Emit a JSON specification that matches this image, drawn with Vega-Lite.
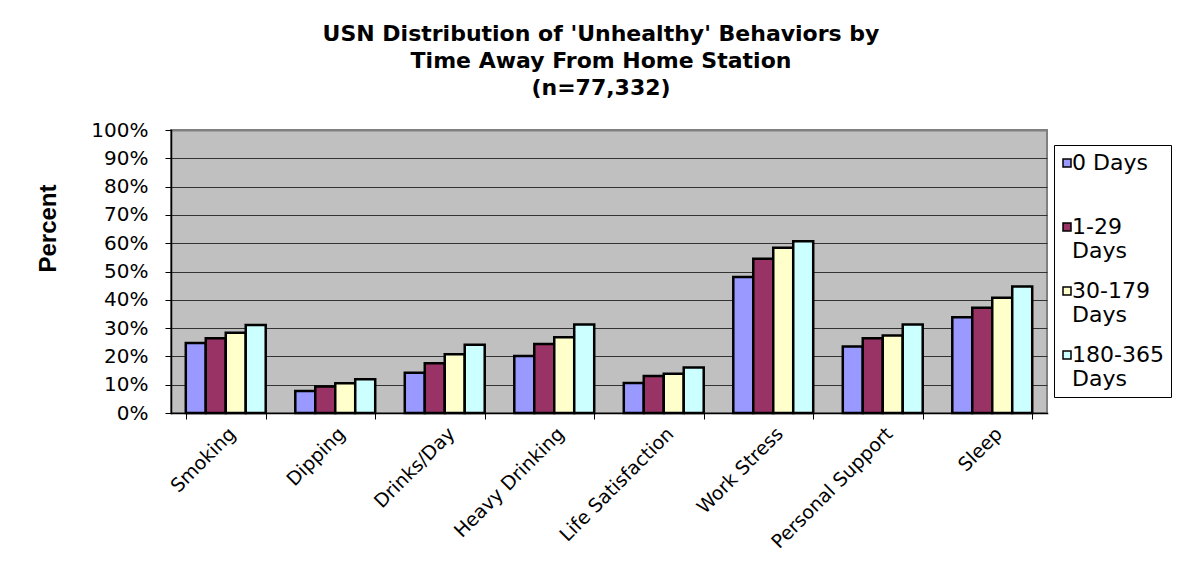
{
  "$schema": "https://vega.github.io/schema/vega-lite/v6.json",
  "width": 876,
  "height": 283,
  "autosize": {"type": "none"},
  "padding": {"left": 171, "top": 130, "right": 132, "bottom": 174},
  "background": "white",
  "title": {
    "text": ["USN Distribution of 'Unhealthy' Behaviors by", "Time Away From Home Station", "(n=77,332)"],
    "font": "DejaVu Sans",
    "fontSize": 22,
    "fontWeight": "bold",
    "color": "black",
    "anchor": "middle",
    "lineHeight": 27,
    "offset": 20,
    "dx": -8
  },
  "data": {
    "values": [
      {"behavior": "Smoking", "group": "0 Days", "value": 24.7},
      {"behavior": "Smoking", "group": "1-29 Days", "value": 26.4},
      {"behavior": "Smoking", "group": "30-179 Days", "value": 28.4},
      {"behavior": "Smoking", "group": "180-365 Days", "value": 31.1},
      {"behavior": "Dipping", "group": "0 Days", "value": 7.8},
      {"behavior": "Dipping", "group": "1-29 Days", "value": 9.4},
      {"behavior": "Dipping", "group": "30-179 Days", "value": 10.5},
      {"behavior": "Dipping", "group": "180-365 Days", "value": 11.9},
      {"behavior": "Drinks/Day", "group": "0 Days", "value": 14.2},
      {"behavior": "Drinks/Day", "group": "1-29 Days", "value": 17.6},
      {"behavior": "Drinks/Day", "group": "30-179 Days", "value": 20.8},
      {"behavior": "Drinks/Day", "group": "180-365 Days", "value": 24.1},
      {"behavior": "Heavy Drinking", "group": "0 Days", "value": 20.1},
      {"behavior": "Heavy Drinking", "group": "1-29 Days", "value": 24.4},
      {"behavior": "Heavy Drinking", "group": "30-179 Days", "value": 26.8},
      {"behavior": "Heavy Drinking", "group": "180-365 Days", "value": 31.3},
      {"behavior": "Life Satisfaction", "group": "0 Days", "value": 10.6},
      {"behavior": "Life Satisfaction", "group": "1-29 Days", "value": 13.1},
      {"behavior": "Life Satisfaction", "group": "30-179 Days", "value": 13.9},
      {"behavior": "Life Satisfaction", "group": "180-365 Days", "value": 16.1},
      {"behavior": "Work Stress", "group": "0 Days", "value": 48.1},
      {"behavior": "Work Stress", "group": "1-29 Days", "value": 54.5},
      {"behavior": "Work Stress", "group": "30-179 Days", "value": 58.4},
      {"behavior": "Work Stress", "group": "180-365 Days", "value": 60.7},
      {"behavior": "Personal Support", "group": "0 Days", "value": 23.5},
      {"behavior": "Personal Support", "group": "1-29 Days", "value": 26.4},
      {"behavior": "Personal Support", "group": "30-179 Days", "value": 27.4},
      {"behavior": "Personal Support", "group": "180-365 Days", "value": 31.3},
      {"behavior": "Sleep", "group": "0 Days", "value": 33.8},
      {"behavior": "Sleep", "group": "1-29 Days", "value": 37.2},
      {"behavior": "Sleep", "group": "30-179 Days", "value": 40.7},
      {"behavior": "Sleep", "group": "180-365 Days", "value": 44.7}
    ]
  },
  "mark": {"type": "bar", "stroke": "black", "strokeWidth": 2.5, "strokeJoin": "miter"},
  "encoding": {
    "x": {
      "field": "behavior",
      "type": "nominal",
      "sort": ["Smoking", "Dipping", "Drinks/Day", "Heavy Drinking", "Life Satisfaction", "Work Stress", "Personal Support", "Sleep"],
      "scale": {"paddingInner": 0.27, "paddingOuter": 0.135},
      "axis": {
        "title": null,
        "labelAngle": -45,
        "labelAlign": "right",
        "labelBaseline": "top",
        "labelFont": "DejaVu Sans",
        "labelFontSize": 19,
        "labelColor": "black",
        "labelPadding": 5,
        "tickBand": "extent",
        "tickSize": 6,
        "tickColor": "black",
        "domainColor": "black",
        "domainWidth": 1.5,
        "grid": false
      }
    },
    "xOffset": {
      "field": "group",
      "type": "nominal",
      "sort": ["0 Days", "1-29 Days", "30-179 Days", "180-365 Days"],
      "scale": {"paddingInner": 0, "paddingOuter": 0}
    },
    "y": {
      "field": "value",
      "type": "quantitative",
      "scale": {"domain": [0, 100], "nice": false},
      "axis": {
        "values": [0, 10, 20, 30, 40, 50, 60, 70, 80, 90, 100],
        "labelExpr": "datum.value + '%'",
        "labelFont": "DejaVu Sans",
        "labelFontSize": 20,
        "labelColor": "black",
        "labelPadding": 17,
        "tickSize": 6,
        "tickColor": "black",
        "domainColor": "black",
        "domainWidth": 1.5,
        "grid": true,
        "gridColor": {"condition": {"test": "datum.value === 100", "value": "#808080"}, "value": "#333333"},
        "gridWidth": {"condition": {"test": "datum.value === 100", "value": 2}, "value": 1},
        "gridOpacity": 1,
        "title": "Percent",
        "titleFont": "Liberation Sans",
        "titleFontSize": 24,
        "titleFontWeight": "bold",
        "titleColor": "black",
        "titleAngle": -90,
        "titleAlign": "center",
        "titleBaseline": "middle",
        "titleX": -123,
        "titleY": 98
      }
    },
    "color": {
      "field": "group",
      "type": "nominal",
      "sort": ["0 Days", "1-29 Days", "30-179 Days", "180-365 Days"],
      "scale": {
        "domain": ["0 Days", "1-29 Days", "30-179 Days", "180-365 Days"],
        "range": ["#9999FF", "#993366", "#FFFFCC", "#CCFFFF"]
      },
      "legend": {
        "title": null,
        "orient": "none",
        "legendX": 883,
        "legendY": 15,
        "padding": 7,
        "strokeColor": "black",
        "fillColor": "white",
        "labelFont": "DejaVu Sans",
        "labelFontSize": 22,
        "labelColor": "black",
        "labelLineHeight": 22,
        "labelBaseline": "middle",
        "labelExpr": "datum.label == '0 Days' ? ['0 Days', ''] : split(datum.label, ' ')",
        "labelOffset": -6,
        "symbolOffset": -5,
        "symbolType": "square",
        "symbolSize": 64,
        "symbolStrokeColor": "black",
        "symbolStrokeWidth": 1.5,
        "symbolOpacity": 1,
        "rowPadding": 18,
        "labelLimit": 200
      }
    }
  },
  "config": {
    "view": {"fill": "#C0C0C0", "stroke": "#808080", "strokeWidth": 2},
    "axis": {"domainCap": "square"}
  }
}
